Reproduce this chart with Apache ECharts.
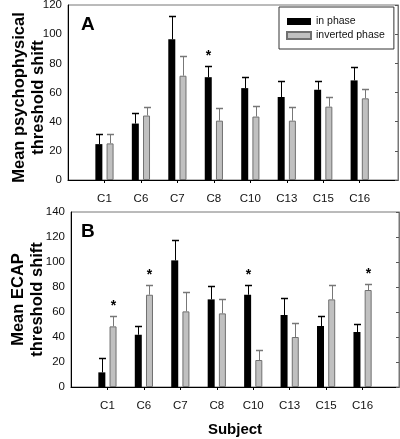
<!DOCTYPE html>
<html>
<head>
<meta charset="utf-8">
<script src="https://cdn.jsdelivr.net/npm/echarts@6/dist/echarts.min.js"></script>
<style>
html,body{margin:0;padding:0;background:#fff;}
#chart{width:400px;height:439px;}
</style>
</head>
<body>
<div id="chart"></div>
<script>
// ---- Data ----
const categories = ['C1', 'C6', 'C7', 'C8', 'C10', 'C13', 'C15', 'C16'];

// Panel A: mean psychophysical threshold shift
const psyIn      = [24.6, 38.7, 96.5, 70.5, 63.0, 56.9, 61.9, 68.3];
const psyInErr   = [6.8, 7.0, 15.7, 7.5, 7.5, 11.1, 5.7, 9.5];
const psyInv     = [25.1, 44.2, 71.5, 40.7, 43.5, 40.7, 50.3, 56.0];
const psyInvErr  = [6.6, 5.8, 13.4, 8.7, 7.2, 9.1, 6.6, 6.6];
const psyStarIn  = [0, 0, 0, 1, 0, 0, 0, 0];
const psyStarInv = [0, 0, 0, 0, 0, 0, 0, 0];

// Panel B: mean ECAP threshold shift
const ecapIn      = [11.7, 41.8, 101.3, 70.1, 73.8, 57.6, 48.8, 44.0];
const ecapInErr   = [11.5, 6.7, 16.0, 10.4, 7.5, 13.8, 7.7, 6.4];
const ecapInv     = [48.5, 73.8, 60.5, 58.9, 21.6, 40.0, 70.1, 77.6];
const ecapInvErr  = [8.5, 7.8, 15.5, 11.5, 8.4, 11.2, 11.2, 5.0];
const ecapStarIn  = [0, 0, 0, 0, 1, 0, 0, 0];
const ecapStarInv = [1, 1, 0, 0, 0, 0, 0, 1];

const yTicksA = [0, 120, 20];
const yTicksB = [0, 140, 20];

// ---- Styles ----
const FONT = 'Liberation Sans, Arial, Helvetica, sans-serif';
const BAR_W = 7;
const BAR_GAP = 0.6;
const OFF = (BAR_W + BAR_W * BAR_GAP) / 2; // center offset of each bar from category tick
const BLACK = '#000000';
const GRAY_FILL = '#c0c0c0';
const GRAY_EDGE = '#707070';

const chart = echarts.init(document.getElementById('chart'), null, {renderer: 'canvas'});

function barData(vals) { return categories.map((c, i) => [i, vals[i]]); }
function errData(vals, errs, stars) { return categories.map((c, i) => [i, vals[i], vals[i] + errs[i], stars[i]]); }

function errRender(offset, color) {
  return function (params, api) {
    const x = api.value(0), v = api.value(1), top = api.value(2), star = api.value(3);
    const p0 = api.coord([x, v]);
    const p1 = api.coord([x, top]);
    const cx = Math.round(p0[0] + offset) + 0.5;
    const ty = Math.round(p1[1]) + 0.5;
    const children = [
      {type: 'line', shape: {x1: cx, y1: p0[1], x2: cx, y2: ty}, style: {stroke: color, lineWidth: 1}},
      {type: 'line', shape: {x1: cx - 3.5, y1: ty, x2: cx + 3.5, y2: ty}, style: {stroke: color, lineWidth: 1.5}}
    ];
    if (star) {
      children.push({type: 'text', x: cx, y: ty - 3,
        style: {text: '*', fill: '#000', font: 'bold 14px ' + FONT, align: 'center', verticalAlign: 'bottom'}});
    }
    return {type: 'group', children: children};
  };
}

function xAxisCfg(grid, maxV, name) {
  return {
    type: 'value', gridIndex: grid, min: -1, max: maxV, interval: 1,
    splitLine: {show: false},
    axisLine: {show: true, onZero: false, lineStyle: {color: '#000', width: 1}},
    axisTick: {show: true, inside: false, length: 3, lineStyle: {color: '#000'},
      customValues: categories.map((c, i) => i)},
    axisLabel: {show: true, margin: 13, fontFamily: FONT, fontSize: 11.5, color: '#111',
      customValues: categories.map((c, i) => i),
      formatter: v => categories[v] || ''},
    name: name || '', nameLocation: 'middle', nameGap: 35, nameMoveOverlap: false,
    nameTextStyle: {fontFamily: FONT, fontSize: 15, fontWeight: 'bold', color: '#000'}
  };
}

function yAxisCfg(grid, t, name, gap, shift) {
  return {
    type: 'value', gridIndex: grid, min: t[0], max: t[1], interval: t[2], position: 'left',
    splitLine: {show: false},
    axisLine: {show: true, onZero: false, lineStyle: {color: '#000'}},
    axisTick: {show: false},
    axisLabel: {margin: 6, fontFamily: FONT, fontSize: 11.5, color: '#111'},
    name: name, nameLocation: 'middle', nameGap: gap, nameMoveOverlap: false,
    nameTextStyle: {fontFamily: FONT, fontSize: 16.5, fontWeight: 'bold', color: '#000', lineHeight: 19,
      align: 'center', padding: [0, shift, 0, 0]}
  };
}

function yRightCfg(grid, t) {
  return {
    type: 'value', gridIndex: grid, min: t[0], max: t[1], interval: t[2], position: 'right',
    splitLine: {show: false},
    axisLine: {show: true, onZero: false, lineStyle: {color: '#777'}},
    axisTick: {show: true, inside: true, length: 3, lineStyle: {color: '#555'}},
    axisLabel: {show: false}
  };
}

function barSeries(name, xi, yi, vals, fill, edge) {
  return {
    type: 'bar', name: name, xAxisIndex: xi, yAxisIndex: yi,
    barWidth: BAR_W, barGap: (BAR_GAP * 100) + '%',
    itemStyle: {color: fill, borderColor: edge, borderWidth: edge ? 1 : 0},
    data: barData(vals), z: 2
  };
}

function errSeries(xi, yi, vals, errs, stars, offset, color) {
  return {
    type: 'custom', xAxisIndex: xi, yAxisIndex: yi, z: 3,
    renderItem: errRender(offset, color),
    encode: {x: 0, y: [1, 2]},
    data: errData(vals, errs, stars), clip: false
  };
}

const option = {
  animation: false,
  backgroundColor: '#fff',
  grid: [
    {left: 68, right: 2, top: 5, bottom: 259, show: true, borderColor: '#777', borderWidth: 1,
     containLabel: false, outerBoundsMode: 'none'},
    {left: 71, right: 1, top: 212, bottom: 52, show: true, borderColor: '#777', borderWidth: 1,
     containLabel: false, outerBoundsMode: 'none'}
  ],
  xAxis: [xAxisCfg(0, 8.05), xAxisCfg(1, 8.0, 'Subject')],
  yAxis: [
    yAxisCfg(0, yTicksA, 'Mean psychophysical\nthreshold shift', 20, 10),
    yRightCfg(0, yTicksA),
    yAxisCfg(1, yTicksB, 'Mean ECAP\nthreshold shift', 24, 0),
    yRightCfg(1, yTicksB)
  ],
  legend: {
    data: ['in phase', 'inverted phase'],
    orient: 'vertical', left: 279, top: 7,
    padding: [8, 9, 7, 7], itemGap: 1,
    itemWidth: 24, itemHeight: 7, itemTextGap: 6,
    icon: 'rect',
    borderColor: '#333', borderWidth: 1, borderRadius: 0,
    backgroundColor: '#fff',
    textStyle: {fontFamily: FONT, fontSize: 10.5, color: '#111', lineHeight: 13}
  },
  graphic: [
    {type: 'text', left: 81, top: 15, style: {text: 'A', font: 'bold 19px ' + FONT, fill: '#000'}},
    {type: 'text', left: 81, top: 222, style: {text: 'B', font: 'bold 19px ' + FONT, fill: '#000'}}
  ],
  series: [
    barSeries('in phase', 0, 0, psyIn, BLACK, null),
    barSeries('inverted phase', 0, 0, psyInv, GRAY_FILL, GRAY_EDGE),
    errSeries(0, 0, psyIn, psyInErr, psyStarIn, -OFF, '#000'),
    errSeries(0, 0, psyInv, psyInvErr, psyStarInv, OFF, '#777'),
    barSeries('in phase', 1, 2, ecapIn, BLACK, null),
    barSeries('inverted phase', 1, 2, ecapInv, GRAY_FILL, GRAY_EDGE),
    errSeries(1, 2, ecapIn, ecapInErr, ecapStarIn, -OFF, '#000'),
    errSeries(1, 2, ecapInv, ecapInvErr, ecapStarInv, OFF, '#777')
  ]
};
chart.setOption(option);
</script>
</body>
</html>
